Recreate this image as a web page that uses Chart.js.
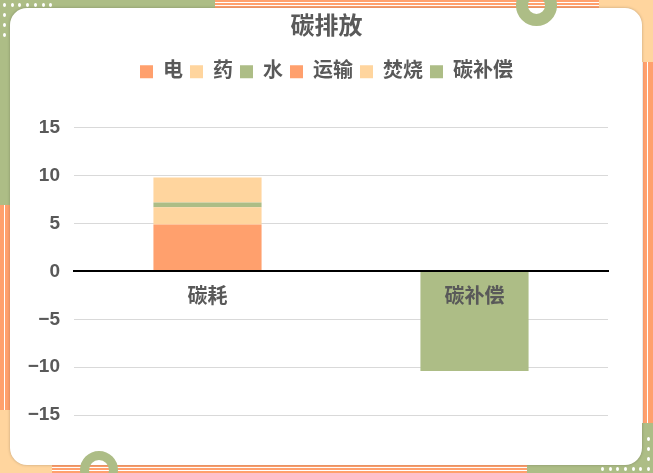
<!DOCTYPE html>
<html>
<head>
<meta charset="utf-8">
<script src="https://cdn.jsdelivr.net/npm/chart.js@4.4.1/dist/chart.umd.min.js"></script>
<style>
  html, body { margin: 0; padding: 0; background: #ffffff; }
  #wrap { position: relative; width: 653px; height: 473px; overflow: hidden; background: #ffffff; }
  .d { position: absolute; }
  .green { background: #ADBD86; }
  .peach { background: #FFD59E; }
  .hstripe { background: repeating-linear-gradient(to bottom, #FFA06D 0px, #FFA06D 2px, #ffffff 2px, #ffffff 3px, #FFA06D 3px, #FFA06D 5px, #ffffff 5px, #ffffff 6px, #FFA06D 6px, #FFA06D 8px); }
  .vstripe { background: linear-gradient(to right, #FFA06D 0px, #FFA06D 4px, #ffffff 4px, #ffffff 5px, #FFA06D 5px); }
  #card { position: absolute; left: 10px; top: 8px; width: 632px; height: 457px; background: #ffffff; border-radius: 17px; box-shadow: 0 0 3px rgba(0,0,0,0.25); }
  canvas { position: absolute; left: 0; top: 0; }
  .ring { position: absolute; border-style: solid; border-color: #ADBD86; border-radius: 50%; box-sizing: border-box; z-index: 5; }
  .dot { position: absolute; width: 3px; height: 4px; border-radius: 50%; background: #ffffff; }
</style>
</head>
<body>
<div id="wrap">
  <div class="d green" style="left:0;top:0;width:215px;height:205px;"></div>
  <div class="d hstripe" style="left:215px;top:0;width:384px;height:8px;"></div>
  <div class="d peach" style="left:599px;top:0;width:54px;height:62px;"></div>
  <div class="d vstripe" style="left:643px;top:62px;width:10px;height:361px;"></div>
  <div class="d green" style="left:527px;top:423px;width:126px;height:50px;"></div>
  <div class="d hstripe" style="left:52px;top:465px;width:475px;height:8px;"></div>
  <div class="d peach" style="left:0;top:410px;width:52px;height:63px;"></div>
  <div class="d vstripe" style="left:0;top:205px;width:10px;height:205px;"></div>
  <div id="dots"></div>
  <div id="card"></div>
  <canvas id="c" width="653" height="473"></canvas>
  <div class="ring" style="left:516px;top:-15px;width:41px;height:41px;border-width:12px;"></div>
  <div class="ring" style="left:80px;top:451px;width:38px;height:38px;border-width:9px;"></div>
</div>
<script>
// ---- data ----
const categories = ['碳耗', '碳补偿'];
const seriesNames = ['电', '药', '水', '运输', '焚烧', '碳补偿'];
const elecValues = [4.9, null];
const drugValues = [1.8, null];
const waterValues = [0.5, null];
const transportValues = [0, null];
const burnValues = [2.6, null];
const offsetValues = [null, -10.4];
const yTickValues = [-15, -10, -5, 0, 5, 10, 15];
const titleText = '碳排放';

// ---- decorative dots ----
(function () {
  const dots = document.getElementById('dots');
  function add(x, y) {
    const d = document.createElement('div');
    d.className = 'dot';
    d.style.left = (x - 1.5) + 'px';
    d.style.top = (y - 2) + 'px';
    dots.appendChild(d);
  }
  for (let i = 0; i < 7; i++) add(4.5 + i * 7.7, 4.5);
  for (let i = 1; i < 4; i++) add(4.5, 4.5 + i * 10);
  for (let i = 0; i < 7; i++) add(648.5 - i * 7.7, 468.5);
  for (let i = 1; i < 4; i++) add(648.5, 468.5 - i * 10);
})();

const ORANGE = '#FFA06D', PEACH = '#FFD59E', GREEN = '#ADBD86', TEXT = '#595959';
const FONT = "'Liberation Sans', 'Noto Sans CJK SC', sans-serif";
const colors = [ORANGE, PEACH, GREEN, ORANGE, PEACH, GREEN];
const valueSets = [elecValues, drugValues, waterValues, transportValues, burnValues, offsetValues];

const datasets = seriesNames.map((name, i) => ({
  label: name,
  data: valueSets[i],
  backgroundColor: colors[i],
  borderWidth: 0,
  categoryPercentage: 1.0,
  barPercentage: 0.405
}));

const legendGap = {
  id: 'legendGap',
  afterInit(chart) {
    const lg = chart.legend;
    const origFit = lg.fit;
    lg.fit = function () {
      origFit.call(lg);
      lg.height += 36;
    };
  }
};

new Chart(document.getElementById('c'), {
  type: 'bar',
  data: { labels: categories, datasets },
  plugins: [legendGap],
  options: {
    responsive: false,
    animation: false,
    layout: { padding: { left: 0, right: 0, top: 0, bottom: 58 } },
    plugins: {
      title: {
        display: true,
        text: titleText,
        color: TEXT,
        font: { family: FONT, size: 24, weight: 'bold' },
        padding: { top: 13, bottom: 13 }
      },
      legend: {
        display: true,
        position: 'top',
        labels: {
          boxWidth: 13,
          boxHeight: 13,
          padding: 7,
          color: TEXT,
          font: { family: FONT, size: 20, weight: 'bold' }
        }
      },
      tooltip: { enabled: false }
    },
    scales: {
      x: {
        stacked: true,
        position: { y: 0 },
        grid: { display: false, drawTicks: false },
        border: { display: true, color: '#000000', width: 2, z: 1 },
        ticks: {
          z: 1,
          color: TEXT,
          padding: 14,
          font: { family: FONT, size: 20, weight: 'bold' }
        }
      },
      y: {
        stacked: true,
        min: -15,
        max: 15,
        afterFit(scale) { scale.width = 74; },
        afterBuildTicks(scale) { scale.ticks = yTickValues.map(v => ({ value: v })); },
        grid: { color: '#D9D9D9', lineWidth: 1, drawTicks: false },
        border: { display: false },
        ticks: {
          color: TEXT,
          padding: 14,
          font: { family: FONT, size: 19, weight: 'bold' },
          callback: v => (v < 0 ? '\u2212' + Math.abs(v) : String(v))
        }
      },
      yRight: {
        type: 'linear',
        position: 'right',
        min: -15,
        max: 15,
        display: true,
        afterFit(scale) { scale.width = 45; },
        grid: { display: false, drawTicks: false },
        border: { display: false },
        ticks: { display: false }
      }
    }
  }
});
</script>
</body>
</html>
